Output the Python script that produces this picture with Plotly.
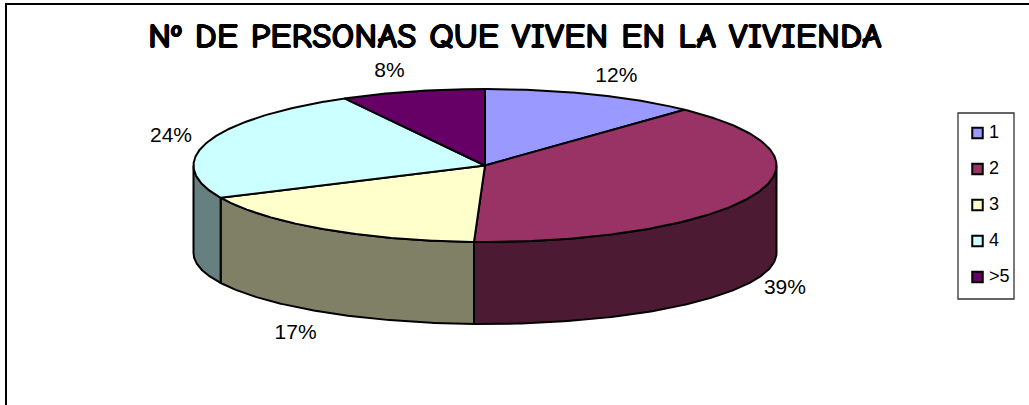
import numpy as np
import plotly.graph_objects as go

# ---- data ----
categories = ["1", "2", "3", "4", ">5"]
values = [12.0, 38.6, 17.48, 23.92, 8.0]
title_text = "Nº DE PERSONAS QUE VIVEN EN LA VIVIENDA"

# ---- styles ----
top_colors = ["#9999FF", "#993366", "#FFFFCC", "#CCFFFF", "#660066"]
side_colors = ["#4D4D80", "#4D1A33", "#808066", "#668080", "#330033"]

# ---- pie geometry in canvas pixels ----
CX, CY, RX, RY = 485.0, 165.5, 291.5, 76.5
BOTTOM_CY, BOTTOM_RY = 253.0, 71.0
LABEL_NUDGE_X = [24, 31, -28, -37, -23]
LABEL_NUDGE_Y = [-18, 8, 22, -5, -20]
LEGEND_BOX = (958, 113, 1014, 299)
LEGEND_X, LEGEND_TEXT_X, LEGEND_Y0, LEGEND_STEP = 977.5, 989, 133, 36
W, H = 1029, 405
LINE = 2

fracs = np.array(values) / sum(values)
edges = np.concatenate([[0], np.cumsum(fracs)]) * 2 * np.pi


def top_pt(a):
    return CX + RX * np.sin(a), CY - RY * np.cos(a)


def bot_pt(a):
    return CX + RX * np.sin(a), BOTTOM_CY - BOTTOM_RY * np.cos(a)


fig = go.Figure()

# side walls: only the front half (pi/2 .. 3pi/2) is visible
for i, cat in enumerate(categories):
    a0 = max(edges[i], np.pi / 2)
    a1 = min(edges[i + 1], 3 * np.pi / 2)
    if a1 <= a0:
        continue
    t = np.linspace(a0, a1, 120)
    xt, yt = top_pt(t)
    xb, yb = bot_pt(t[::-1])
    fig.add_trace(go.Scatter(
        x=np.r_[xt, xb, xt[0]], y=np.r_[yt, yb, yt[0]], mode="lines", fill="toself",
        fillcolor=side_colors[i], line=dict(color="black", width=LINE),
        hoverinfo="skip", showlegend=False))

# top faces
for i, cat in enumerate(categories):
    t = np.linspace(edges[i], edges[i + 1], 160)
    xt, yt = top_pt(t)
    fig.add_trace(go.Scatter(
        x=np.r_[CX, xt, CX], y=np.r_[CY, yt, CY], mode="lines", fill="toself",
        fillcolor=top_colors[i], line=dict(color="black", width=LINE),
        name=cat, text=f"{values[i]:.0f}%", hoverinfo="name+text", showlegend=False))

# percentage labels
mid = (edges[:-1] + edges[1:]) / 2
lx, ly = [], []
for i, m in enumerate(mid):
    x, y = top_pt(m) if np.cos(m) > 0 else bot_pt(m)
    lx.append(x + LABEL_NUDGE_X[i])
    ly.append(y + LABEL_NUDGE_Y[i])
fig.add_trace(go.Scatter(
    x=lx, y=ly, mode="text", text=[f"{v:.0f}%" for v in values],
    textfont=dict(family="Liberation Sans, Arial, sans-serif", size=21, color="black"),
    hoverinfo="skip", showlegend=False))

# legend
ly_leg = [LEGEND_Y0 + LEGEND_STEP * i for i in range(len(categories))]
fig.add_trace(go.Scatter(
    x=[LEGEND_X] * len(categories), y=ly_leg, mode="markers",
    marker=dict(symbol="square", size=10.5, color=top_colors, line=dict(color="black", width=2)),
    hoverinfo="skip", showlegend=False))
fig.add_trace(go.Scatter(
    x=[LEGEND_TEXT_X] * len(categories), y=ly_leg, mode="text", text=categories,
    textposition="middle right",
    textfont=dict(family="Liberation Sans, Arial, sans-serif", size=18, color="black"),
    hoverinfo="skip", showlegend=False))

fig.update_layout(
    width=W, height=H, autosize=False,
    margin=dict(l=0, r=0, t=0, b=0),
    paper_bgcolor="white", plot_bgcolor="white",
    xaxis=dict(range=[0, W], visible=False, fixedrange=True),
    yaxis=dict(range=[H, 0], visible=False, fixedrange=True),
    shapes=[
        dict(type="rect", xref="x", yref="y", x0=6, y0=4, x1=1060, y1=430,
             line=dict(color="black", width=2), layer="below"),
        dict(type="rect", xref="x", yref="y", x0=LEGEND_BOX[0], y0=LEGEND_BOX[1],
             x1=LEGEND_BOX[2], y1=LEGEND_BOX[3], line=dict(color="#333333", width=1.3), layer="below"),
    ],
    annotations=[dict(
        text=f"<b>{title_text}</b>", x=515, y=36, xref="x", yref="y",
        xanchor="center", yanchor="middle", showarrow=False,
        font=dict(family="Comic Neue, Comic Sans MS, DejaVu Sans, sans-serif", size=35.6, color="black",
                  shadow="0.4px 0 0 black, -0.4px 0 0 black"))],
    showlegend=False,
)
fig.write_html("out.html", config=dict(displayModeBar=False),
               post_script="document.body.style.margin='0';document.documentElement.style.overflow='hidden';")
